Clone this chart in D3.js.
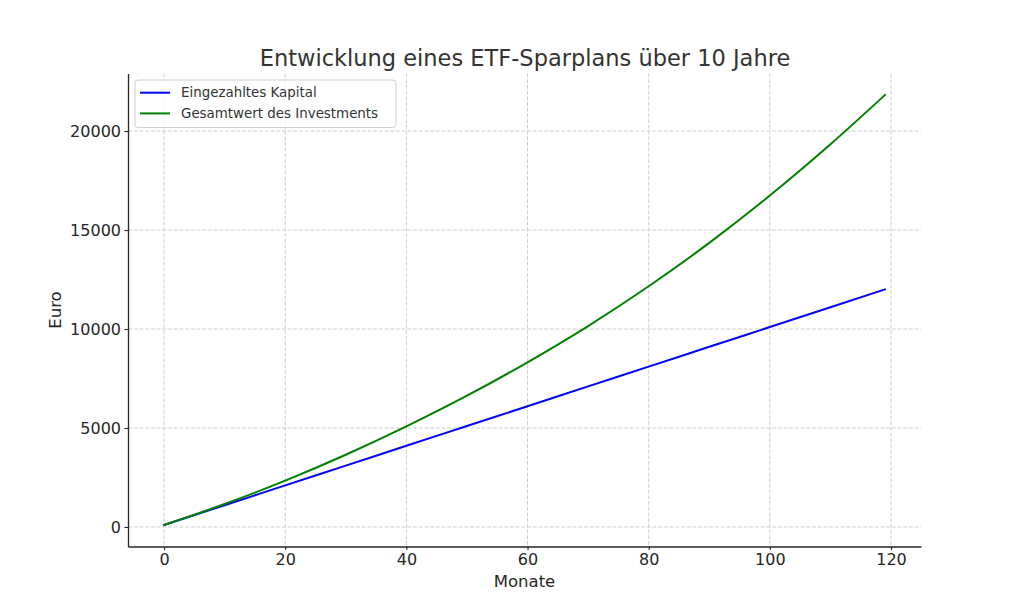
<!DOCTYPE html>
<html>
<head>
<meta charset="utf-8">
<script src="https://cdn.jsdelivr.net/npm/d3@7"></script>
<style>
  html, body { margin: 0; padding: 0; background: #ffffff; }
  svg { display: block; font-family: "DejaVu Sans", sans-serif; }
</style>
</head>
<body>
<svg id="chart" width="1024" height="614"></svg>
<script>
// ---- data ----
const months = [0, 10, 20, 30, 40, 50, 60, 70, 80, 90, 100, 110, 119];
const invested = [100, 1100, 2100, 3100, 4100, 5100, 6100, 7100, 8100, 9100, 10100, 11100, 12000];
const totalValue = [100, 1160, 2340, 3650, 5080, 6630, 8320, 10150, 12160, 14350, 16740, 19330, 21820];
const xTicks = [0, 20, 40, 60, 80, 100, 120];
const yTicks = [0, 5000, 10000, 15000, 20000];
const seriesNames = ["Eingezahltes Kapital", "Gesamtwert des Investments"];
const seriesColors = ["#0000ff", "#008000"];
const titleText = "Entwicklung eines ETF-Sparplans über 10 Jahre";
const xLabel = "Monate";
const yLabel = "Euro";

// ---- layout ----
const svg = d3.select("#chart");
const plot = { left: 128, right: 921, top: 73.5, bottom: 546.5 };

const x = d3.scaleLinear().domain([-5.95, 124.95]).range([plot.left, plot.right]);
const y = d3.scaleLinear().domain([-986, 22906]).range([plot.bottom, plot.top]);

// grid
const grid = svg.append("g");
grid.selectAll(".gx").data(xTicks).join("line")
  .attr("x1", d => x(d)).attr("x2", d => x(d))
  .attr("y1", plot.top).attr("y2", plot.bottom)
  .attr("stroke", "#cfcfcf").attr("stroke-width", 1).attr("stroke-dasharray", "4,1.7");
grid.selectAll(".gy").data(yTicks).join("line")
  .attr("x1", plot.left).attr("x2", plot.right)
  .attr("y1", d => y(d)).attr("y2", d => y(d))
  .attr("stroke", "#cfcfcf").attr("stroke-width", 1).attr("stroke-dasharray", "4,1.7");

// lines
const series = [invested, totalValue];
const line = d3.line().x(d => x(d[0])).y(d => y(d[1])).curve(d3.curveMonotoneX);
series.forEach((vals, i) => {
  svg.append("path")
    .datum(months.map((m, j) => [m, vals[j]]))
    .attr("fill", "none")
    .attr("stroke", seriesColors[i])
    .attr("stroke-width", 2)
    .attr("stroke-linecap", "square")
    .attr("d", line);
});

// axes
const axisColor = "#262626";
const xAxis = svg.append("g").attr("transform", `translate(0,${plot.bottom})`)
  .call(d3.axisBottom(x).tickValues(xTicks).tickFormat(d3.format("d")).tickSize(3.5).tickSizeOuter(0).tickPadding(3.5));
const yAxis = svg.append("g").attr("transform", `translate(${plot.left},0)`)
  .call(d3.axisLeft(y).tickValues(yTicks).tickFormat(d3.format("d")).tickSize(3.5).tickSizeOuter(0).tickPadding(3.5));
[xAxis, yAxis].forEach(a => {
  a.select(".domain").attr("stroke", axisColor).attr("stroke-width", 1.3);
  a.selectAll(".tick line").attr("stroke", axisColor).attr("stroke-width", 1.1);
  a.selectAll(".tick text").attr("fill", axisColor).style("font-size", "16px").style("font-family", "DejaVu Sans");
});

// title & labels
svg.append("text").attr("x", 525).attr("y", 66).attr("text-anchor", "middle")
  .style("font-size", "22.5px").attr("fill", "#333333").text(titleText);
svg.append("text").attr("x", 524.5).attr("y", 587).attr("text-anchor", "middle")
  .style("font-size", "16.5px").attr("fill", axisColor).text(xLabel);
svg.append("text").attr("transform", "translate(61,310) rotate(-90)").attr("text-anchor", "middle")
  .style("font-size", "16.5px").attr("fill", axisColor).text(yLabel);

// legend
const lg = svg.append("g");
lg.append("rect").attr("x", 135).attr("y", 80).attr("width", 261).attr("height", 47.5)
  .attr("rx", 3).attr("fill", "#ffffff").attr("fill-opacity", 0.8)
  .attr("stroke", "#d0d0d0").attr("stroke-width", 1);
seriesNames.forEach((name, i) => {
  const ly = 92.7 + i * 20.7;
  lg.append("line").attr("x1", 140).attr("x2", 170).attr("y1", ly).attr("y2", ly)
    .attr("stroke", seriesColors[i]).attr("stroke-width", 2);
  lg.append("text").attr("x", 181).attr("y", ly).attr("dy", "0.35em")
    .style("font-size", "13.4px").attr("fill", "#333333").text(name);
});
</script>
</body>
</html>
